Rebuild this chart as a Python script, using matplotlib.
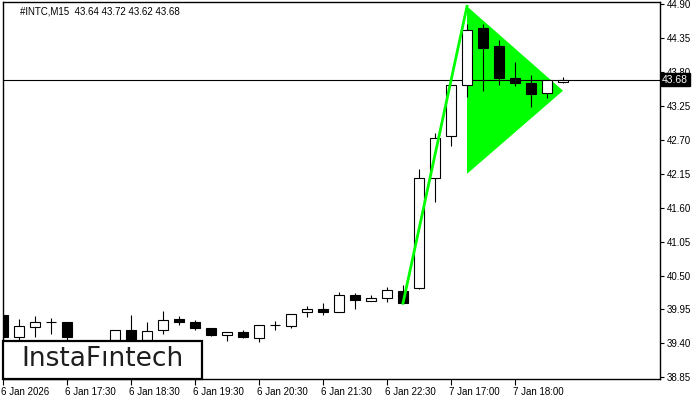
import numpy as np
import matplotlib.pyplot as plt
from matplotlib.patches import Rectangle, Polygon
from matplotlib.transforms import ScaledTranslation

plt.rcParams['font.family'] = ['Liberation Sans', 'DejaVu Sans']

# M15 candles, index = bar position on chart
opens = [39.86, 39.50, 39.66, 39.74, 39.75, 39.40, 39.35, 39.45, 39.62, 39.45,
         39.62, 39.79, 39.75, 39.64, 39.53, 39.58, 39.49, 39.70, 39.68, 39.91,
         39.95, 39.91, 40.19, 40.09, 40.14, 40.25, 40.30, 42.08, 42.77, 43.60,
         44.51, 44.22, 43.71, 43.63, 43.47, 43.64]
highs = [39.88, 39.79, 39.84, 39.81, 39.75, 39.45, 39.45, 39.62, 39.86, 39.74,
         39.92, 39.84, 39.78, 39.64, 39.59, 39.61, 39.70, 39.76, 39.88, 40.00,
         40.05, 40.23, 40.21, 40.19, 40.32, 40.35, 42.23, 42.81, 43.60, 44.59,
         44.58, 44.33, 43.96, 43.75, 43.68, 43.72]
lows = [39.45, 39.45, 39.50, 39.55, 39.45, 39.30, 39.30, 39.40, 39.40, 39.42,
        39.55, 39.70, 39.61, 39.52, 39.43, 39.48, 39.42, 39.62, 39.65, 39.82,
        39.86, 39.91, 39.95, 40.09, 40.07, 40.05, 40.28, 41.70, 42.61, 43.40,
        43.50, 43.60, 43.58, 43.24, 43.38, 43.62]
closes = [39.50, 39.68, 39.75, 39.74, 39.50, 39.35, 39.42, 39.62, 39.45, 39.60,
          39.78, 39.74, 39.65, 39.53, 39.59, 39.50, 39.70, 39.70, 39.88, 39.96,
          39.91, 40.19, 40.10, 40.14, 40.27, 40.05, 42.08, 42.74, 43.60, 44.49,
          44.19, 43.71, 43.63, 43.45, 43.68, 43.68]

tick_pos = [0, 4, 8, 12, 16, 20, 24, 28, 32]
tick_labels = ['6 Jan 2026', '6 Jan 17:30', '6 Jan 18:30', '6 Jan 19:30',
               '6 Jan 20:30', '6 Jan 21:30', '6 Jan 22:30', '7 Jan 17:00',
               '7 Jan 18:00']
price_ticks = [38.85, 39.40, 39.95, 40.50, 41.05, 41.60, 42.15, 42.70,
               43.25, 43.80, 44.35, 44.90]
last_price = 43.68

# pennant: flagpole and triangle (bar index, price)
pole_x = [25, 29]
pole_y = [40.05, 44.87]
tri_x = [29, 29, 35]
tri_y = [44.87, 42.15, 43.50]

fig = plt.figure(figsize=(7, 4), dpi=100)
ax = fig.add_axes([2.5 / 700, 21 / 400, 657 / 700, 377 / 400])

x = np.arange(len(opens))
o = np.array(opens)
c = np.array(closes)
up = c >= o

ax.vlines(x, lows, highs, color='black', lw=0.8, zorder=2)
ax.bar(x, np.abs(c - o), bottom=np.minimum(o, c), width=0.66,
       color=np.where(up, 'white', 'black'), edgecolor='black', lw=0.8, zorder=3)

ax.add_patch(Polygon(list(zip(tri_x, tri_y)), closed=True, color='#00ff00',
                     lw=0, zorder=1))
ax.plot(pole_x, pole_y, color='#00ff00', lw=2, zorder=4)

ax.axhline(last_price, color='black', lw=0.8, zorder=1)

ax.set_xlim(-0.03, 41.03)
ax.set_ylim(38.82, 44.94)

ax.yaxis.tick_right()
ax.set_yticks(price_ticks)
ax.set_yticklabels([f'{p:.2f}' for p in price_ticks])
ax.tick_params(axis='y', length=3, width=0.8, pad=2, labelsize=7)
ax.set_xticks(tick_pos)
ax.set_xticklabels(tick_labels, ha='left')
ax.tick_params(axis='x', length=4, width=0.8, pad=2, labelsize=7)
for lbl in ax.get_xticklabels():
    lbl.set_transform(lbl.get_transform() + ScaledTranslation(-2 / 100, 0, fig.dpi_scale_trans))

for s in ax.spines.values():
    s.set_linewidth(1)

ax.text(18 / 657, 1 - 9 / 377, '#INTC,M15  43.64 43.72 43.62 43.68',
        transform=ax.transAxes, fontsize=7, va='center', ha='left')

ax.text(1.004, last_price, f'{last_price:.2f}', transform=ax.get_yaxis_transform(),
        fontsize=7.5, color='white', va='center', ha='left', zorder=10,
        bbox=dict(boxstyle='square,pad=0.15', fc='black', ec='black'))

# logo box
fig.patches.append(Rectangle((3 / 700, 21 / 400), 199 / 700, 38 / 400,
                             transform=fig.transFigure, fc='white', ec='black',
                             lw=1.6, zorder=5))
fig.text(102 / 700, 41 / 400, 'InstaF\u0131ntech', fontsize=19, color='#1e1e1e',
         ha='center', va='center', family='DejaVu Sans', zorder=6)

fig.savefig('out.png', dpi=100)
